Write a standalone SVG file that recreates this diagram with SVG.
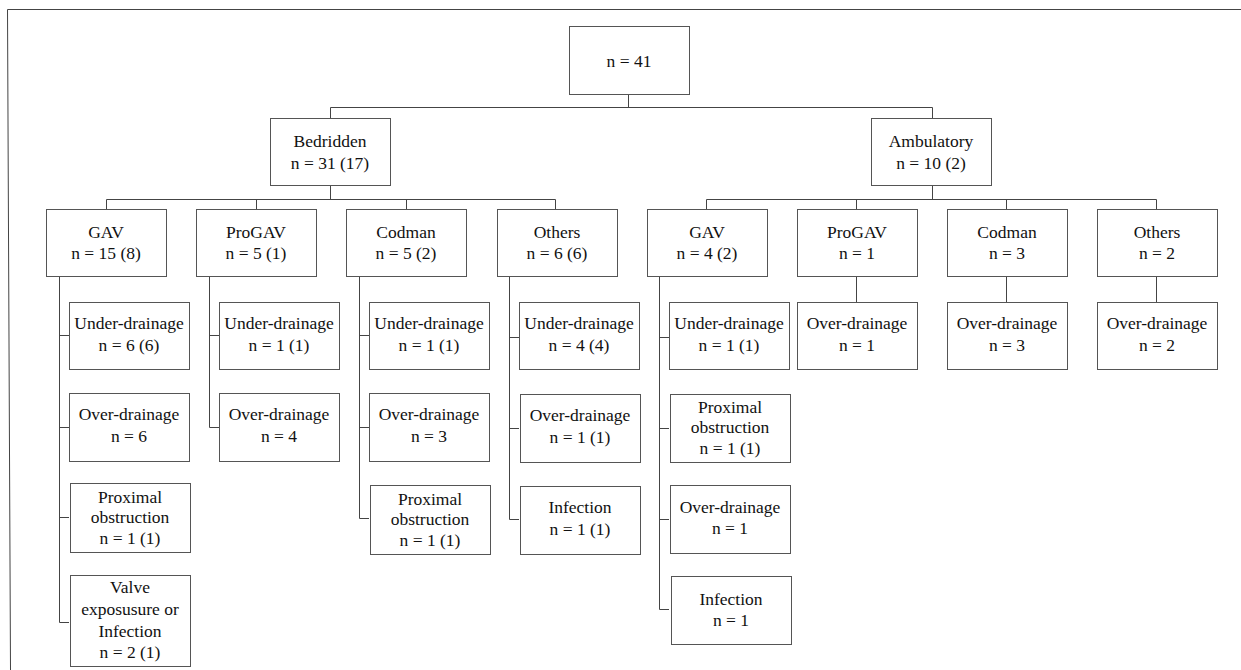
<svg xmlns="http://www.w3.org/2000/svg" width="1241" height="670" viewBox="0 0 1241 670">
<style>
.b{fill:#fff;stroke:#555;stroke-width:1}
.c{fill:none;stroke:#444;stroke-width:1}
.t text{font-size:17.5px;fill:#111;text-anchor:middle}
</style>
<rect x="0" y="0" width="1241" height="670" fill="#fff"/>
<g id="frame"><path class="c" d="M1241 9.5H7.5L10.5 670"/></g>
<g id="connectors">
<path class="c" d="M628.5 95V107.5M330.5 107.5H932.5M330.5 107.5V118M932.5 107.5V118"/>
<path class="c" d="M330.5 186V199.5M106.5 199.5H555.5M106.5 199.5V209M256.5 199.5V209M406.5 199.5V209M555.5 199.5V209"/>
<path class="c" d="M932.5 186V199.5M706.5 199.5H1156.5M706.5 199.5V209M856.5 199.5V209M1006.5 199.5V209M1156.5 199.5V209"/>
<path class="c" d="M59.5 277V622.5H69M59.5 335.5H69M59.5 427.5H69M59.5 517.5H69"/>
<path class="c" d="M209.5 277V427.5H219M209.5 335.5H219"/>
<path class="c" d="M359.5 277V518.5H369M359.5 335.5H369M359.5 427.5H369"/>
<path class="c" d="M509.5 277V519.5H519M509.5 337.5H519M509.5 428.5H519"/>
<path class="c" d="M659.5 277V609.5H669M659.5 337.5H669M659.5 428.5H669M659.5 519.5H669"/>
<path class="c" d="M856.5 277V302M1006.5 277V302M1156.5 277V302"/>
</g>
<g class="t" font-family="'Liberation Serif', 'DejaVu Serif', serif">
<g id="root"><rect class="b" x="569.5" y="26.5" width="120" height="68"/><text x="629" y="67">n = 41</text></g>
<g id="bedridden"><rect class="b" x="270.5" y="118.5" width="120" height="67"/><text x="330" y="147">Bedridden</text><text x="330" y="169">n = 31 (17)</text></g>
<g id="ambulatory"><rect class="b" x="871.5" y="118.5" width="120" height="67"/><text x="931" y="147">Ambulatory</text><text x="931" y="169">n = 10 (2)</text></g>

<g id="b-gav"><rect class="b" x="46.5" y="209.5" width="120" height="67"/><text x="106" y="238">GAV</text><text x="106" y="259">n = 15 (8)</text></g>
<g id="b-progav"><rect class="b" x="196.5" y="209.5" width="120" height="67"/><text x="256" y="238">ProGAV</text><text x="256" y="259">n = 5 (1)</text></g>
<g id="b-codman"><rect class="b" x="346.5" y="209.5" width="120" height="67"/><text x="406" y="238">Codman</text><text x="406" y="259">n = 5 (2)</text></g>
<g id="b-others"><rect class="b" x="497.5" y="209.5" width="120" height="67"/><text x="557" y="238">Others</text><text x="557" y="259">n = 6 (6)</text></g>
<g id="a-gav"><rect class="b" x="647.5" y="209.5" width="120" height="67"/><text x="707" y="238">GAV</text><text x="707" y="259">n = 4 (2)</text></g>
<g id="a-progav"><rect class="b" x="797.5" y="209.5" width="120" height="67"/><text x="857" y="238">ProGAV</text><text x="857" y="259">n = 1</text></g>
<g id="a-codman"><rect class="b" x="947.5" y="209.5" width="120" height="67"/><text x="1007" y="238">Codman</text><text x="1007" y="259">n = 3</text></g>
<g id="a-others"><rect class="b" x="1097.5" y="209.5" width="120" height="67"/><text x="1157" y="238">Others</text><text x="1157" y="259">n = 2</text></g>

<g id="bg-under"><rect class="b" x="69.5" y="302.5" width="120" height="67"/><text x="129" y="329">Under-drainage</text><text x="129" y="351">n = 6 (6)</text></g>
<g id="bg-over"><rect class="b" x="69.5" y="393.5" width="120" height="68"/><text x="129" y="420">Over-drainage</text><text x="129" y="442">n = 6</text></g>
<g id="bg-prox"><rect class="b" x="70.5" y="483.5" width="120" height="69"/><text x="130" y="503">Proximal</text><text x="130" y="523">obstruction</text><text x="130" y="544">n = 1 (1)</text></g>
<g id="bg-valve"><rect class="b" x="70.5" y="575.5" width="120" height="91"/><text x="130" y="593">Valve</text><text x="130" y="615">exposusure or</text><text x="130" y="637">Infection</text><text x="130" y="658">n = 2 (1)</text></g>

<g id="bp-under"><rect class="b" x="219.5" y="302.5" width="120" height="67"/><text x="279" y="329">Under-drainage</text><text x="279" y="351">n = 1 (1)</text></g>
<g id="bp-over"><rect class="b" x="219.5" y="393.5" width="120" height="68"/><text x="279" y="420">Over-drainage</text><text x="279" y="442">n = 4</text></g>

<g id="bc-under"><rect class="b" x="369.5" y="302.5" width="120" height="67"/><text x="429" y="329">Under-drainage</text><text x="429" y="351">n = 1 (1)</text></g>
<g id="bc-over"><rect class="b" x="369.5" y="393.5" width="120" height="68"/><text x="429" y="420">Over-drainage</text><text x="429" y="442">n = 3</text></g>
<g id="bc-prox"><rect class="b" x="370.5" y="485.5" width="120" height="69"/><text x="430" y="505">Proximal</text><text x="430" y="525">obstruction</text><text x="430" y="546">n = 1 (1)</text></g>

<g id="bo-under"><rect class="b" x="519.5" y="302.5" width="120" height="67"/><text x="579" y="329">Under-drainage</text><text x="579" y="351">n = 4 (4)</text></g>
<g id="bo-over"><rect class="b" x="520.5" y="394.5" width="120" height="68"/><text x="580" y="421">Over-drainage</text><text x="580" y="443">n = 1 (1)</text></g>
<g id="bo-inf"><rect class="b" x="520.5" y="486.5" width="120" height="68"/><text x="580" y="513">Infection</text><text x="580" y="535">n = 1 (1)</text></g>

<g id="ag-under"><rect class="b" x="669.5" y="302.5" width="120" height="67"/><text x="729" y="329">Under-drainage</text><text x="729" y="351">n = 1 (1)</text></g>
<g id="ag-prox"><rect class="b" x="670.5" y="394.5" width="120" height="68"/><text x="730" y="413">Proximal</text><text x="730" y="433">obstruction</text><text x="730" y="454">n = 1 (1)</text></g>
<g id="ag-over"><rect class="b" x="670.5" y="485.5" width="120" height="68"/><text x="730" y="513">Over-drainage</text><text x="730" y="534">n = 1</text></g>
<g id="ag-inf"><rect class="b" x="671.5" y="576.5" width="120" height="68"/><text x="731" y="605">Infection</text><text x="731" y="626">n = 1</text></g>

<g id="ap-over"><rect class="b" x="797.5" y="302.5" width="120" height="67"/><text x="857" y="329">Over-drainage</text><text x="857" y="351">n = 1</text></g>
<g id="ac-over"><rect class="b" x="947.5" y="302.5" width="120" height="67"/><text x="1007" y="329">Over-drainage</text><text x="1007" y="351">n = 3</text></g>
<g id="ao-over"><rect class="b" x="1097.5" y="302.5" width="120" height="67"/><text x="1157" y="329">Over-drainage</text><text x="1157" y="351">n = 2</text></g>
</g>
</svg>
